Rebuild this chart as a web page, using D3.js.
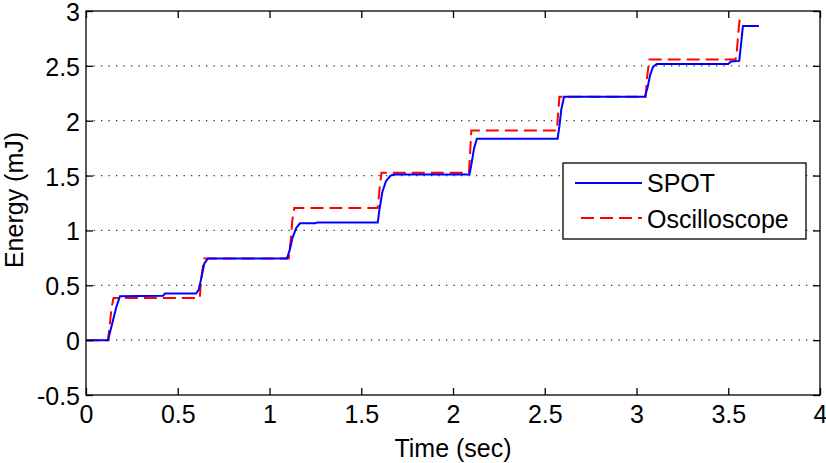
<!DOCTYPE html>
<html>
<head>
<meta charset="utf-8">
<script src="https://cdn.jsdelivr.net/npm/d3@7"></script>
<style>
  html, body { margin: 0; padding: 0; background: #fff; }
  svg { display: block; }
  text { font-family: "Liberation Sans", Arial, sans-serif; fill: #000; }
</style>
</head>
<body>
<svg id="chart" width="826" height="463"></svg>
<script>
const spotTime   = [0, 0.12, 0.135, 0.15, 0.165, 0.185, 0.42, 0.43, 0.60, 0.615, 0.63, 0.645, 0.665, 1.095, 1.11, 1.125, 1.145, 1.166, 1.25, 1.26, 1.59, 1.60, 1.615, 1.635, 1.66, 1.68, 2.09, 2.10, 2.115, 2.13, 2.57, 2.58, 2.59, 2.605, 3.046, 3.06, 3.075, 3.09, 3.11, 3.50, 3.515, 3.56, 3.57, 3.58, 3.667];
const spotEnergy = [0, 0, 0.10, 0.20, 0.30, 0.40, 0.405, 0.425, 0.425, 0.46, 0.58, 0.70, 0.745, 0.745, 0.82, 0.93, 1.02, 1.065, 1.065, 1.073, 1.073, 1.20, 1.35, 1.45, 1.50, 1.51, 1.51, 1.60, 1.75, 1.835, 1.835, 1.95, 2.10, 2.219, 2.219, 2.30, 2.42, 2.49, 2.517, 2.517, 2.54, 2.545, 2.70, 2.863, 2.863];

const oscTime    = [0, 0.12, 0.13, 0.14, 0.15, 0.62, 0.625, 0.635, 0.645, 1.105, 1.115, 1.125, 1.135, 1.59, 1.60, 1.61, 2.087, 2.093, 2.10, 2.566, 2.572, 2.58, 3.05, 3.058, 3.07, 3.54, 3.546, 3.552, 3.558, 3.565];
const oscEnergy  = [0, 0, 0.15, 0.30, 0.385, 0.385, 0.50, 0.65, 0.745, 0.745, 0.90, 1.10, 1.205, 1.205, 1.38, 1.525, 1.525, 1.70, 1.91, 1.91, 2.05, 2.219, 2.219, 2.40, 2.558, 2.558, 2.62, 2.74, 2.86, 2.96];

const xTicks = [0, 0.5, 1, 1.5, 2, 2.5, 3, 3.5, 4];
const yTicks = [-0.5, 0, 0.5, 1, 1.5, 2, 2.5, 3];
const gridLevels = [0, 0.5, 1, 1.5, 2, 2.5];
const seriesNames = ["SPOT", "Oscilloscope"];

const svg = d3.select("#chart");
const L = 86, R = 820, T = 11, B = 395;
const x = d3.scaleLinear().domain([0, 4]).range([L, R]);
const y = d3.scaleLinear().domain([-0.5, 3]).range([B, T]);
const fmt = d => String(d);
const FS = 25;

// grid
svg.append("g").selectAll("line").data(gridLevels).join("line")
  .attr("x1", L).attr("x2", R)
  .attr("y1", d => y(d)).attr("y2", d => y(d))
  .attr("stroke", "#333").attr("stroke-width", 1.3)
  .attr("stroke-dasharray", "1.3,6.2");

const line = d3.line().x(d => x(d[0])).y(d => y(d[1]));
const oscData = oscTime.map((t, i) => [t, oscEnergy[i]]);
const spotData = spotTime.map((t, i) => [t, spotEnergy[i]]);

svg.append("path").datum(oscData).attr("d", line)
  .attr("fill", "none").attr("stroke", "#ff0000").attr("stroke-width", 2)
  .attr("stroke-dasharray", "13,6");
svg.append("path").datum(spotData).attr("d", line)
  .attr("fill", "none").attr("stroke", "#0000ff").attr("stroke-width", 2);

// axes
const TK = 7;
const gx = svg.append("g").attr("transform", `translate(0,${B})`)
  .call(d3.axisBottom(x).tickValues(xTicks).tickFormat(fmt).tickSizeInner(-TK).tickSizeOuter(0).tickPadding(10));
const gy = svg.append("g").attr("transform", `translate(${L},0)`)
  .call(d3.axisLeft(y).tickValues(yTicks).tickFormat(fmt).tickSizeInner(-TK).tickSizeOuter(0).tickPadding(6));
const gt = svg.append("g").attr("transform", `translate(0,${T})`)
  .call(d3.axisTop(x).tickValues(xTicks).tickFormat("").tickSizeInner(-TK).tickSizeOuter(0));
const gr = svg.append("g").attr("transform", `translate(${R},0)`)
  .call(d3.axisRight(y).tickValues(yTicks).tickFormat("").tickSizeInner(-TK).tickSizeOuter(0));
[gx, gy, gt, gr].forEach(g => {
  g.select(".domain").remove();
  g.selectAll(".tick line").attr("stroke", "#000").attr("stroke-width", 1.3);
  g.attr("font-family", null).attr("font-size", null);
  g.selectAll("text").style("font-size", FS + "px").attr("fill", "#000");
});
gy.selectAll("text").attr("dy", "0.38em");
svg.append("rect").attr("x", L).attr("y", T).attr("width", R - L).attr("height", B - T)
  .attr("fill", "none").attr("stroke", "#000").attr("stroke-width", 1.3);

// axis labels
svg.append("text").attr("x", (L + R) / 2).attr("y", 457).attr("text-anchor", "middle")
  .style("font-size", FS + "px").text("Time (sec)");
svg.append("text").attr("transform", `translate(22.5,${(T + B) / 2 - 3}) rotate(-90)`)
  .attr("text-anchor", "middle").style("font-size", FS + "px").text("Energy (mJ)");

// legend
const lg = svg.append("g");
lg.append("rect").attr("x", 563).attr("y", 163).attr("width", 243).attr("height", 76)
  .attr("fill", "#fff").attr("stroke", "#000").attr("stroke-width", 1.3);
lg.append("line").attr("x1", 575).attr("x2", 642).attr("y1", 183).attr("y2", 183)
  .attr("stroke", "#0000ff").attr("stroke-width", 2);
lg.append("line").attr("x1", 581).attr("x2", 642).attr("y1", 218).attr("y2", 218)
  .attr("stroke", "#ff0000").attr("stroke-width", 2).attr("stroke-dasharray", "13,6");
lg.append("text").attr("x", 647).attr("y", 192).style("font-size", FS + "px").text(seriesNames[0]);
lg.append("text").attr("x", 647).attr("y", 228).style("font-size", FS + "px").text(seriesNames[1]);
</script>
</body>
</html>
